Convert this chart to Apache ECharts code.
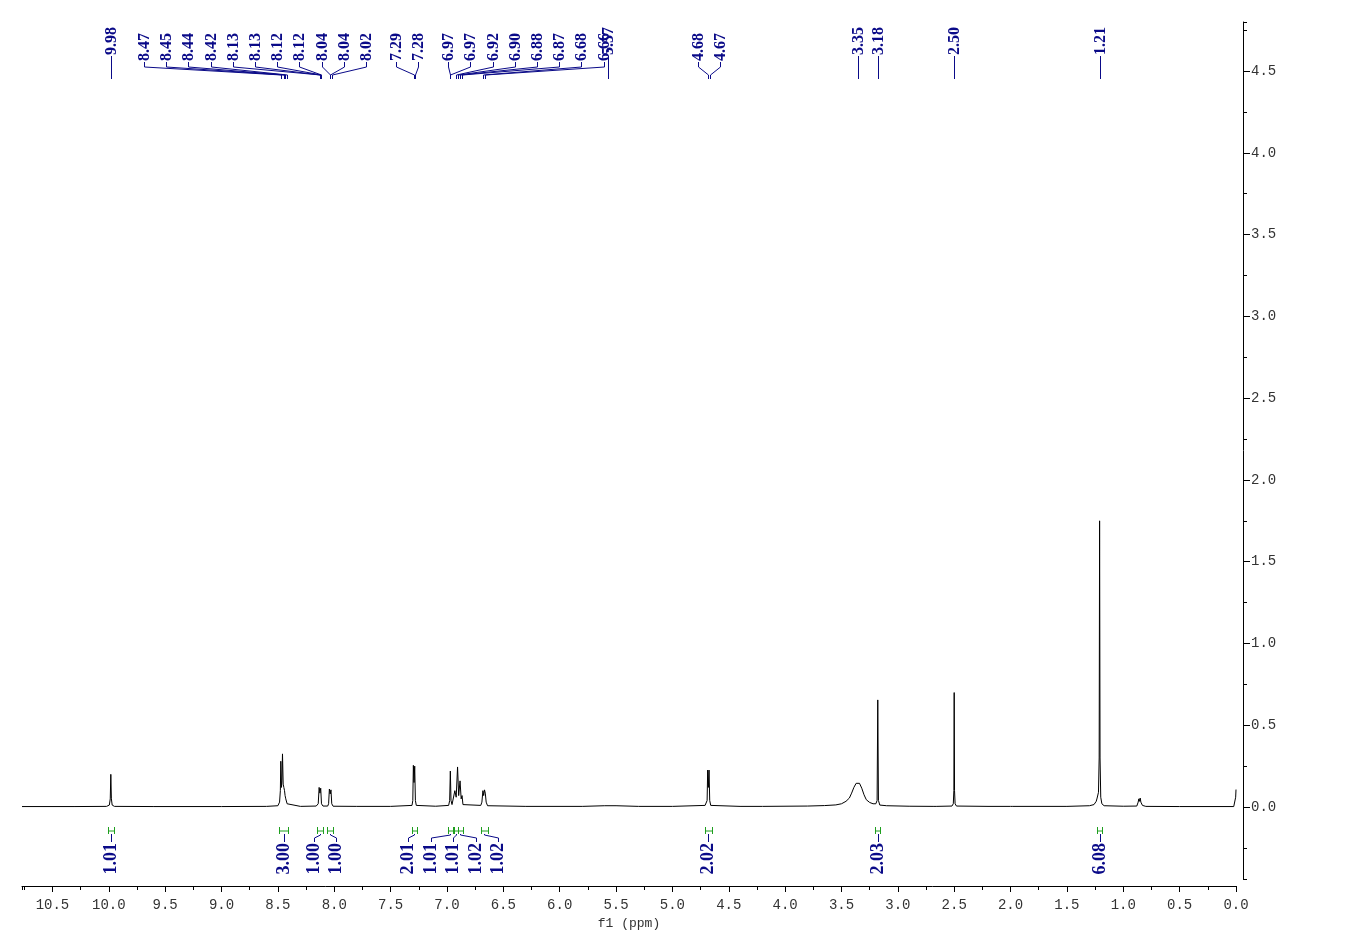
<!DOCTYPE html>
<html>
<head>
<meta charset="utf-8">
<script src="https://cdn.jsdelivr.net/npm/echarts@6/dist/echarts.min.js"></script>
<style>
html,body{margin:0;padding:0;background:#fff;}
#c{width:1348px;height:952px;}
</style>
</head>
<body>
<div id="c"></div>
<script>
// ---------------- DATA ----------------
// Spectrum trace: chemical shift (ppm) and intensity
const spectrumPpm = [
  10.77, 10.3, 10.02, 9.995, 9.987, 9.982, 9.977, 9.97, 9.95, 9.6, 9.0, 8.6,
  8.5, 8.485, 8.478, 8.474, 8.468, 8.464, 8.459, 8.453, 8.447, 8.441, 8.436, 8.43, 8.425, 8.418, 8.405, 8.3,
  8.16, 8.142, 8.134, 8.127, 8.12, 8.113, 8.1,
  8.058, 8.05, 8.043, 8.036, 8.029, 8.022, 8.01, 7.8, 7.5,
  7.31, 7.303, 7.298, 7.292, 7.286, 7.28, 7.272, 7.1,
  6.985, 6.976, 6.97, 6.964, 6.955, 6.94, 6.93, 6.918, 6.906, 6.896, 6.884, 6.874, 6.866, 6.858, 6.845,
  6.70, 6.69, 6.681, 6.674, 6.667, 6.66, 6.652, 6.64, 6.3,
  5.8, 5.6, 5.5, 5.3, 5.0,
  4.71, 4.692, 4.687, 4.681, 4.675, 4.669, 4.66, 4.4,
  4.2, 3.8, 3.65, 3.55, 3.5, 3.46, 3.43, 3.41, 3.39, 3.37, 3.355, 3.34, 3.32, 3.30, 3.28, 3.25, 3.22,
  3.195, 3.184, 3.178, 3.172, 3.16, 3.1, 2.9, 2.68, 2.67, 2.66,
  2.52, 2.508, 2.503, 2.5, 2.497, 2.492, 2.48, 2.2, 2.0, 1.99, 1.98, 1.5, 1.3,
  1.26, 1.24, 1.232, 1.22, 1.214, 1.21, 1.206, 1.2, 1.19, 1.17, 1.0,
  0.88, 0.868, 0.862, 0.856, 0.85, 0.844, 0.838, 0.83, 0.8, 0.5,
  0.02, 0.008, 0.003, 0.0
];
const spectrumIntensity = [
  0.003, 0.003, 0.004, 0.012, 0.05, 0.20, 0.05, 0.012, 0.004, 0.003, 0.003, 0.004,
  0.008, 0.03, 0.10, 0.28, 0.12, 0.16, 0.325, 0.14, 0.12, 0.10, 0.07, 0.05, 0.045, 0.02, 0.008, 0.004,
  0.006, 0.02, 0.12, 0.085, 0.115, 0.02, 0.006,
  0.006, 0.02, 0.11, 0.08, 0.105, 0.02, 0.005, 0.004, 0.004,
  0.01, 0.04, 0.255, 0.15, 0.25, 0.04, 0.01, 0.005,
  0.01, 0.04, 0.22, 0.04, 0.015, 0.02, 0.10, 0.06, 0.245, 0.07, 0.16, 0.05, 0.07, 0.015, 0.006,
  0.01, 0.03, 0.10, 0.07, 0.105, 0.085, 0.03, 0.008, 0.004,
  0.004, 0.008, 0.008, 0.004, 0.004,
  0.01, 0.04, 0.226, 0.12, 0.226, 0.04, 0.01, 0.004,
  0.004, 0.006, 0.009, 0.013, 0.02, 0.035, 0.055, 0.085, 0.12, 0.145, 0.153, 0.145, 0.115, 0.075, 0.045, 0.028, 0.02,
  0.02, 0.04, 0.655, 0.04, 0.012, 0.008, 0.005, 0.004, 0.008, 0.004,
  0.006, 0.02, 0.10, 0.70, 0.10, 0.02, 0.006, 0.004, 0.004, 0.008, 0.004, 0.004, 0.008,
  0.015, 0.035, 0.055, 0.09, 0.30, 1.75, 0.30, 0.06, 0.02, 0.008, 0.005,
  0.006, 0.03, 0.05, 0.035, 0.055, 0.03, 0.04, 0.01, 0.004, 0.003,
  0.003, 0.015, 0.06, 0.107
];

// Peak labels (top), grouped as in the reference
const peakLabelGroups = [
  [9.98],
  [8.47, 8.45, 8.44, 8.42, 8.13, 8.13, 8.12, 8.12, 8.04, 8.04, 8.02],
  [7.29, 7.28],
  [6.97, 6.97, 6.92, 6.90, 6.88, 6.87, 6.68, 6.66],
  [5.57],
  [4.68, 4.67],
  [3.35],
  [3.18],
  [2.50],
  [1.21]
];

// Integrals (bottom)
const integralValues = [1.01, 3.00, 1.00, 1.00, 2.01, 1.01, 1.01, 1.02, 1.02, 2.02, 2.03, 6.08];
const integralFrom   = [10.01, 8.49, 8.15, 8.06, 7.31, 6.99, 6.94, 6.90, 6.70, 4.71, 3.20, 1.23];
const integralTo     = [9.95, 8.41, 8.10, 8.01, 7.27, 6.95, 6.90, 6.86, 6.64, 4.65, 3.16, 1.19];

const xAxisName = 'f1 (ppm)';

// ---------------- CHART ----------------
const NAVY = '#0a0a88';
const GREEN = '#1f9f1f';
const AXIS_FONT = 'Liberation Mono';
const LABEL_FONT = 'bold 16px "Liberation Serif", "Times New Roman", serif';
const INT_FONT = 'bold 18px "Liberation Serif", "Times New Roman", serif';

const chart = echarts.init(document.getElementById('c'), null, {renderer: 'canvas'});

const seriesData = spectrumPpm.map((p, i) => [p, spectrumIntensity[i]]);
const fmt1 = v => Number(v).toFixed(1);

const xCommon = {type: 'value', inverse: true, min: 0, max: 10.77, position: 'bottom', offset: 7};
const yCommon = {type: 'value', position: 'right', offset: 7, min: -0.44, max: 4.8};

const option = {
  animation: false,
  backgroundColor: '#ffffff',
  grid: {left: 22, right: 112, top: 22, bottom: 73, containLabel: false, outerBoundsMode: 'none'},
  xAxis: [
    Object.assign({}, xCommon, {
      minInterval: 0.5, maxInterval: 0.5,
      axisLine: {show: true, onZero: false, lineStyle: {color: '#000', width: 1}},
      axisTick: {show: true, inside: false, length: 6, lineStyle: {color: '#000', width: 1}},
      axisLabel: {show: true, margin: 12, fontFamily: AXIS_FONT, fontSize: 14, color: '#333',
                  showMaxLabel: false, formatter: fmt1},
      splitLine: {show: false},
      name: xAxisName, nameLocation: 'middle', nameGap: 29,
      nameTextStyle: {fontFamily: AXIS_FONT, fontSize: 13, color: '#333'}
    }),
    Object.assign({}, xCommon, {
      minInterval: 0.25, maxInterval: 0.25,
      axisLine: {show: false, onZero: false},
      axisTick: {show: true, inside: false, length: 4, lineStyle: {color: '#000', width: 1}},
      axisLabel: {show: false},
      splitLine: {show: false}
    })
  ],
  yAxis: [
    Object.assign({}, yCommon, {
      minInterval: 0.5, maxInterval: 0.5,
      axisLine: {show: true, onZero: false, lineStyle: {color: '#000', width: 1}},
      axisTick: {show: true, inside: false, length: 7, lineStyle: {color: '#000', width: 1}},
      axisLabel: {show: true, margin: 8, fontFamily: AXIS_FONT, fontSize: 14, color: '#333',
                  showMinLabel: false, showMaxLabel: false, formatter: fmt1},
      splitLine: {show: false}
    }),
    Object.assign({}, yCommon, {
      minInterval: 0.25, maxInterval: 0.25,
      axisLine: {show: false, onZero: false},
      axisTick: {show: true, inside: false, length: 4, lineStyle: {color: '#000', width: 1}},
      axisLabel: {show: false},
      splitLine: {show: false}
    })
  ],
  series: [{
    type: 'line', xAxisIndex: 0, yAxisIndex: 0, data: seriesData,
    showSymbol: false, symbol: 'none', silent: true, smooth: false, clip: false,
    lineStyle: {color: '#000', width: 1}, sampling: null
  }]
};
chart.setOption(option);

// ---------------- ANNOTATIONS (positions via the chart's own scales) ----------------
const px = v => chart.convertToPixel({xAxisIndex: 0}, v);

// Group-level overlap-resolving layout.
// groups: [{ds: [desired px...]}]; returns label positions per group.
function layoutGroups(groups, gap, groupGap) {
  groups.forEach(g => {
    g.c = g.ds.reduce((s, x) => s + x, 0) / g.ds.length;
    g.half = (g.ds.length - 1) * gap / 2;
  });
  const place = b => {
    const gs = b.gs.map(i => groups[i]);
    let cur = 0; const offs = [];
    gs.forEach((g, k) => {
      if (k > 0) cur += gs[k - 1].half + groupGap + g.half;
      offs.push(cur);
    });
    const mc = gs.reduce((s, g) => s + g.c, 0) / gs.length;
    const mo = offs.reduce((s, x) => s + x, 0) / offs.length;
    b.centres = offs.map(o => mc - mo + o);
    b.left = b.centres[0] - gs[0].half;
    b.right = b.centres[b.centres.length - 1] + gs[gs.length - 1].half;
  };
  let blocks = groups.map((g, i) => ({gs: [i]}));
  blocks.forEach(place);
  let changed = true;
  while (changed) {
    changed = false;
    for (let i = 0; i < blocks.length - 1; i++) {
      if (blocks[i + 1].left - blocks[i].right < groupGap - 1e-6) {
        const nb = {gs: blocks[i].gs.concat(blocks[i + 1].gs)};
        place(nb);
        blocks.splice(i, 2, nb);
        changed = true;
        break;
      }
    }
  }
  const out = [];
  blocks.forEach(b => b.gs.forEach((gi, k) => {
    const g = groups[gi];
    out[gi] = g.ds.map((d, j) => b.centres[k] - g.half + j * gap);
  }));
  return out;
}

const els = [];
const vText = (x, y, text, font, align) => ({
  type: 'text', x: x, y: y, rotation: Math.PI / 2, silent: true, z: 10,
  style: {text: text, font: font, fill: NAVY, align: align, verticalAlign: 'middle',
          textAlign: align, textVerticalAlign: 'middle'}
});
const pline = (pts, color) => ({
  type: 'polyline', silent: true, z: 9,
  shape: {points: pts}, style: {stroke: color, lineWidth: 1, fill: null}
});

// peak labels
const SINGLE_BASE = 56, GROUP_BASE = 62, STUB = 67, BEND = 75, TIP = 79;
const multiGroups = [];
peakLabelGroups.forEach(g => {
  if (g.length === 1) {
    const x = Math.round(px(g[0])) + 0.5;
    els.push(pline([[x, SINGLE_BASE], [x, TIP]], NAVY));
    els.push(vText(x, SINGLE_BASE - 1, g[0].toFixed(2), LABEL_FONT, 'left'));
  } else {
    multiGroups.push({vals: g, ds: g.map(v => px(v))});
  }
});
const groupPos = layoutGroups(multiGroups, 22.2, 30);
multiGroups.forEach((g, gi) => {
  g.vals.forEach((v, j) => {
    const lx = Math.round(groupPos[gi][j]) + 0.5;
    const tx = Math.round(g.ds[j]) + 0.5;
    els.push(pline([[lx, GROUP_BASE], [lx, STUB], [tx, BEND], [tx, TIP]], NAVY));
    els.push(vText(lx, GROUP_BASE - 1, v.toFixed(2), LABEL_FONT, 'left'));
  });
});

// integrals
const BR_TOP = 827, BR_MID = 831, BR_BOT = 834, INT_TOP = 842;
const intGroups = integralValues.map((v, i) => {
  const a = px(integralFrom[i]), b = px(integralTo[i]);
  return {v: v, a: a, b: b, ds: [(a + b) / 2]};
});
const intPos = layoutGroups(intGroups, 22.5, 22.5);
intGroups.forEach((it, i) => {
  const a = Math.round(it.a) + 0.5, b = Math.round(it.b) + 0.5;
  els.push(pline([[a, BR_TOP], [a, BR_BOT]], GREEN));
  els.push(pline([[b, BR_TOP], [b, BR_BOT]], GREEN));
  els.push(pline([[a, BR_MID], [b, BR_MID]], GREEN));
  const c = Math.round(it.ds[0]) + 0.5;
  const lx = Math.round(intPos[i][0]) + 0.5;
  els.push(pline([[c, BR_BOT], [c, BR_BOT + 1], [lx, INT_TOP - 4], [lx, INT_TOP]], NAVY));
  els.push(vText(lx, INT_TOP + 1, it.v.toFixed(2), INT_FONT, 'right'));
});

chart.setOption({graphic: {elements: els}});
</script>
</body>
</html>
